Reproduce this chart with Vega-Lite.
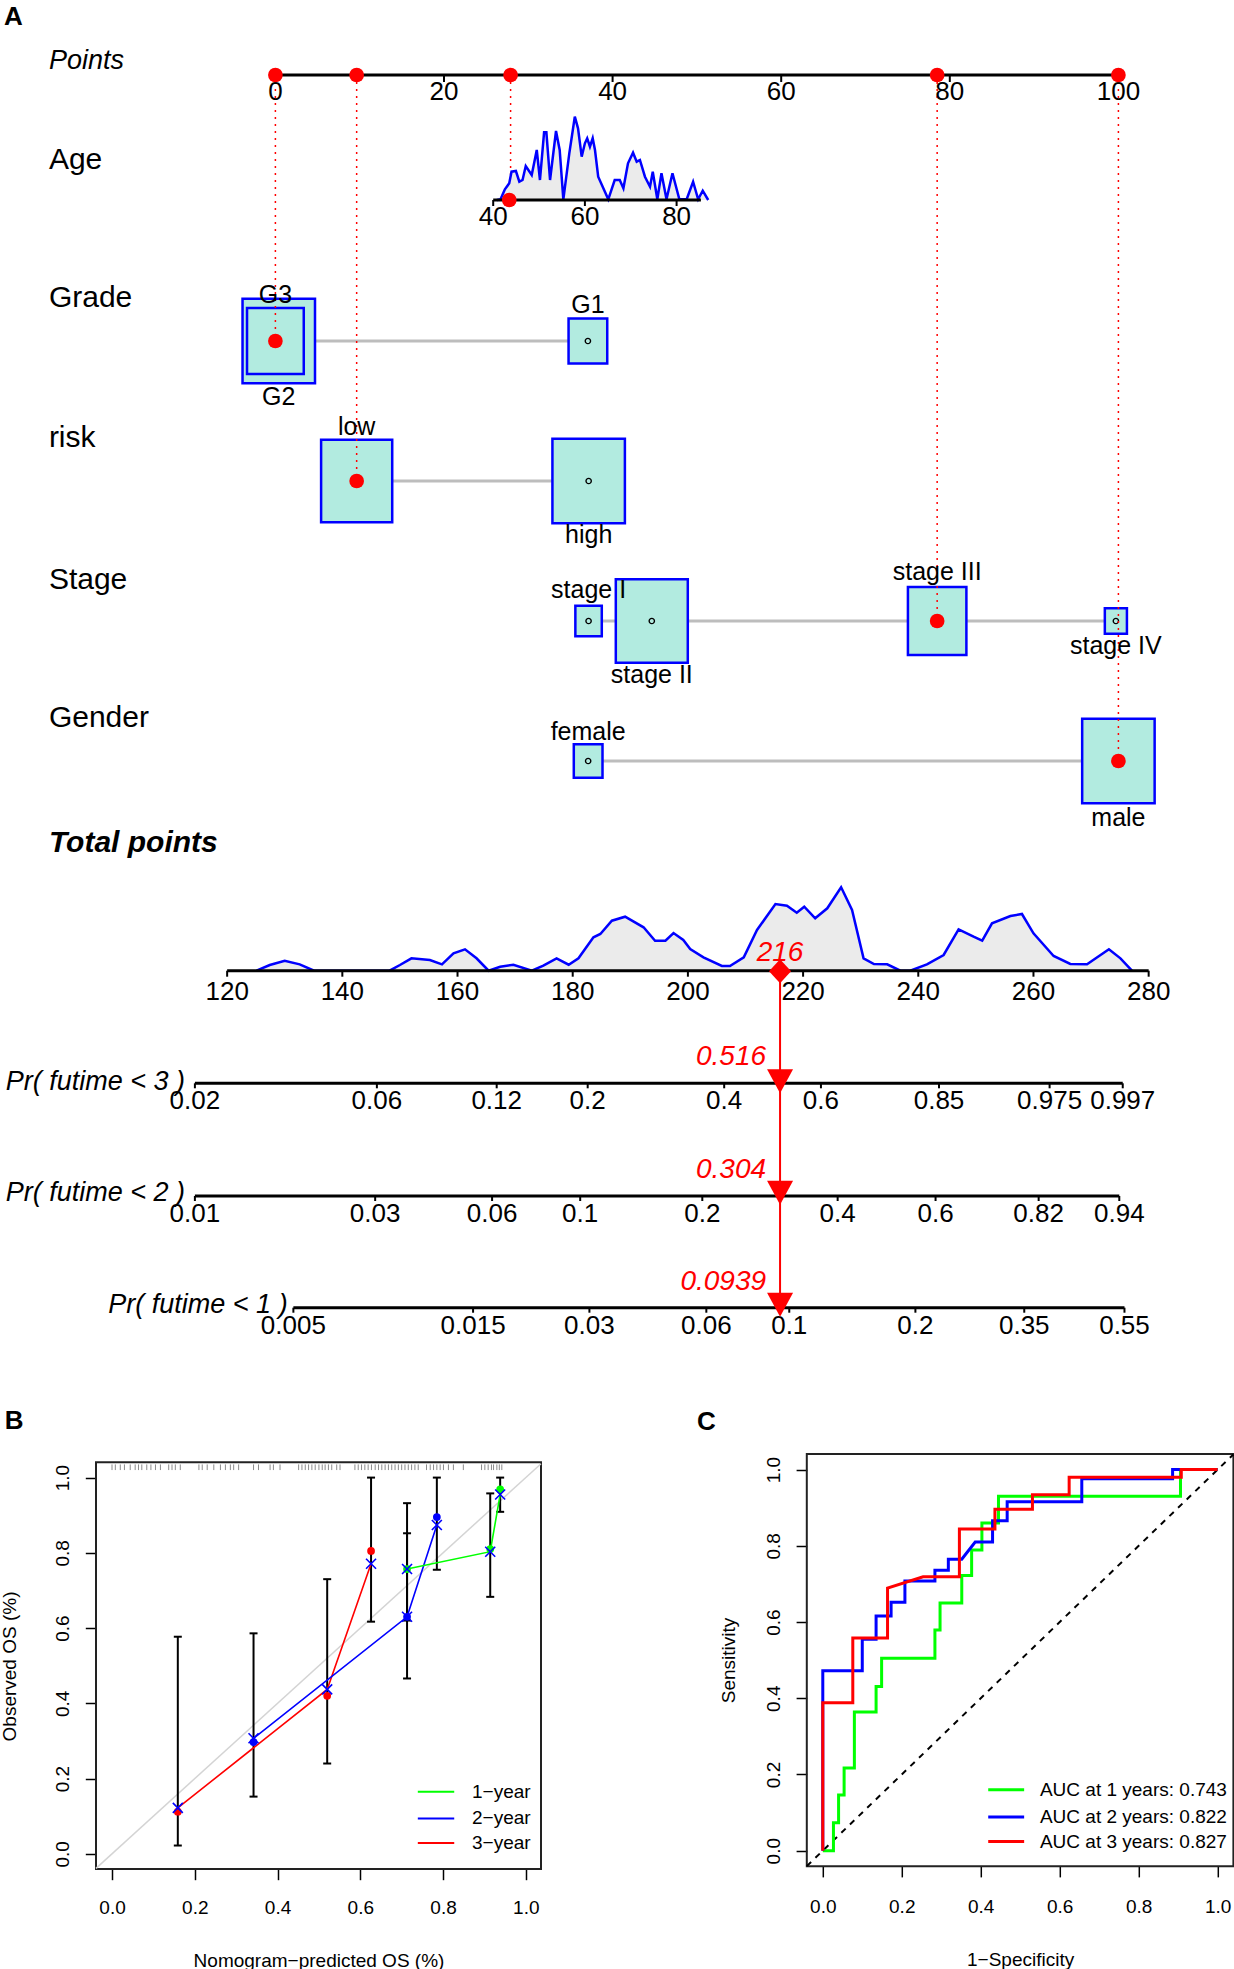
{
"$schema": "https://vega.github.io/schema/vega-lite/v6.json",
"padding": 0,
"spacing": 0,
"config": {"view": {"stroke": null}, "font": "Liberation Sans"},
"datasets": {
 "connectors": [{"x":0,"x2":37.07,"y":3.41},{"x":9.64,"x2":37.16,"y":4.81},{"x":37.15,"x2":99.7,"y":6.21},{"x":37.1,"x2":100,"y":7.61}],
 "cats": [
  {"v":"Grade","t":"G2","x":0.4,"y":3.41,"rel":1.0,"ly":3.967,"sel":false},
  {"v":"Grade","t":"G3","x":0,"y":3.41,"rel":0.613,"ly":2.95,"sel":true},
  {"v":"Grade","t":"G1","x":37.07,"y":3.41,"rel":0.285,"ly":3.05,"sel":false},
  {"v":"risk","t":"low","x":9.64,"y":4.81,"rel":0.963,"ly":4.267,"sel":true},
  {"v":"risk","t":"high","x":37.16,"y":4.81,"rel":1.0,"ly":5.35,"sel":false},
  {"v":"Stage","t":"stage I","x":37.15,"y":6.21,"rel":0.133,"ly":5.9,"sel":false},
  {"v":"Stage","t":"stage II","x":44.65,"y":6.21,"rel":0.987,"ly":6.75,"sel":false},
  {"v":"Stage","t":"stage III","x":78.5,"y":6.21,"rel":0.651,"ly":5.717,"sel":true},
  {"v":"Stage","t":"stage IV","x":99.7,"y":6.21,"rel":0.093,"ly":6.46,"sel":false},
  {"v":"Gender","t":"female","x":37.1,"y":7.61,"rel":0.157,"ly":7.317,"sel":false},
  {"v":"Gender","t":"male","x":100,"y":7.61,"rel":1.0,"ly":8.183,"sel":true}
 ],
 "dotted": [{"x":0,"y":0.75,"y2":3.41},{"x":9.64,"y":0.75,"y2":4.81},{"x":27.9,"y":0.75,"y2":2.0},{"x":78.5,"y":0.75,"y2":6.21},{"x":100,"y":0.75,"y2":7.61}],
 "ptsLine": [{"x":0,"x2":100,"y":0.75}],
 "ptsTicks": [{"x":0,"y":0.75,"t":"0"},{"x":20,"y":0.75,"t":"20"},{"x":40,"y":0.75,"t":"40"},{"x":60,"y":0.75,"t":"60"},{"x":80,"y":0.75,"t":"80"},{"x":100,"y":0.75,"t":"100"}],
 "redPts": [{"x":0,"y":0.75},{"x":9.64,"y":0.75},{"x":27.9,"y":0.75},{"x":78.5,"y":0.75},{"x":100,"y":0.75},{"x":0,"y":3.41},{"x":9.64,"y":4.81},{"x":78.5,"y":6.21},{"x":100,"y":7.61}],
 "rowLab": [{"x":-26.87,"y":1.6,"t":"Age"},{"x":-26.87,"y":2.983,"t":"Grade"},{"x":-26.87,"y":4.38,"t":"risk"},{"x":-26.87,"y":5.8,"t":"Stage"},{"x":-26.87,"y":7.183,"t":"Gender"}],
 "ptsLab": [{"x":-26.87,"y":0.61,"t":"Points"}],
 "totLab": [{"x":-26.87,"y":8.43,"t":"Total points"}],
 "panelLab": [{"x":-32.2,"y":0.165,"t":"A"},{"x":-32.1,"y":14.21,"t":"B"},{"x":50.0,"y":14.22,"t":"C"}],
 "ageDens": [{"x":40.8,"y":2.0},{"x":41.6,"y":1.993},{"x":42.55,"y":1.893},{"x":43.5,"y":1.833},{"x":44.0,"y":1.717},{"x":44.95,"y":1.71},{"x":45.7,"y":1.817},{"x":46.4,"y":1.8},{"x":47.1,"y":1.66},{"x":48.4,"y":1.75},{"x":49.5,"y":1.5},{"x":50.2,"y":1.8},{"x":51.1,"y":1.323},{"x":51.6,"y":1.323},{"x":52.4,"y":1.8},{"x":53.7,"y":1.31},{"x":54.5,"y":1.5},{"x":55.3,"y":1.993},{"x":56.6,"y":1.533},{"x":57.8,"y":1.167},{"x":58.5,"y":1.283},{"x":59.3,"y":1.567},{"x":60.0,"y":1.433},{"x":60.5,"y":1.383},{"x":61.1,"y":1.467},{"x":61.7,"y":1.383},{"x":62.2,"y":1.5},{"x":62.9,"y":1.767},{"x":65.1,"y":1.993},{"x":66.5,"y":1.8},{"x":67.6,"y":1.8},{"x":68.4,"y":1.883},{"x":69.4,"y":1.633},{"x":70.5,"y":1.527},{"x":71.3,"y":1.617},{"x":72.0,"y":1.6},{"x":73.1,"y":1.767},{"x":74.2,"y":1.867},{"x":74.8,"y":1.717},{"x":75.8,"y":1.993},{"x":76.7,"y":1.733},{"x":77.8,"y":1.993},{"x":79.1,"y":1.733},{"x":80.6,"y":1.993},{"x":82.2,"y":1.993},{"x":83.6,"y":1.817},{"x":84.7,"y":1.993},{"x":85.7,"y":1.907},{"x":86.9,"y":2.0}],
 "ageLine": [{"x":40,"x2":85.3,"y":2.0}],
 "ageTicks": [{"x":40,"y":2.0,"t":"40"},{"x":60,"y":2.0,"t":"60"},{"x":80,"y":2.0,"t":"80"}],
 "ageDot": [{"x":43.5,"y":2.0}],
 "tpDens": [{"x":125.1,"y":9.707},{"x":127.4,"y":9.65},{"x":130,"y":9.607},{"x":132.6,"y":9.644},{"x":135.1,"y":9.707},{"x":148.2,"y":9.707},{"x":150,"y":9.65},{"x":152,"y":9.583},{"x":155.2,"y":9.6},{"x":157.3,"y":9.644},{"x":159.3,"y":9.533},{"x":161.3,"y":9.493},{"x":163.3,"y":9.583},{"x":165.4,"y":9.707},{"x":167.4,"y":9.667},{"x":169.7,"y":9.647},{"x":172.9,"y":9.707},{"x":174.9,"y":9.657},{"x":177.2,"y":9.583},{"x":179.3,"y":9.647},{"x":181,"y":9.583},{"x":183.6,"y":9.373},{"x":184.8,"y":9.34},{"x":186.8,"y":9.207},{"x":189.1,"y":9.167},{"x":192.3,"y":9.273},{"x":194.3,"y":9.407},{"x":196.1,"y":9.407},{"x":197.5,"y":9.33},{"x":199.2,"y":9.4},{"x":200.4,"y":9.49},{"x":202.7,"y":9.573},{"x":205.9,"y":9.66},{"x":207.3,"y":9.66},{"x":209.7,"y":9.573},{"x":212,"y":9.3},{"x":215.2,"y":9.04},{"x":217.2,"y":9.057},{"x":218.9,"y":9.127},{"x":220.2,"y":9.067},{"x":222.1,"y":9.183},{"x":224.2,"y":9.083},{"x":226.6,"y":8.873},{"x":228.5,"y":9.1},{"x":230.5,"y":9.583},{"x":232.3,"y":9.64},{"x":234.6,"y":9.643},{"x":236.9,"y":9.707},{"x":238.6,"y":9.707},{"x":241.5,"y":9.643},{"x":244.4,"y":9.55},{"x":247,"y":9.293},{"x":249.6,"y":9.367},{"x":251.1,"y":9.407},{"x":252.8,"y":9.233},{"x":256,"y":9.16},{"x":258,"y":9.14},{"x":260,"y":9.333},{"x":263.5,"y":9.56},{"x":266.4,"y":9.64},{"x":269.3,"y":9.643},{"x":273.1,"y":9.493},{"x":275.1,"y":9.583},{"x":277.1,"y":9.707}],
 "tpLines": [{"x":120,"x2":280,"y":9.707},{"x":114.4,"x2":275.5,"y":10.833},{"x":114.4,"x2":274.9,"y":11.96},{"x":131.5,"x2":275.8,"y":13.077}],
 "tpTicks": [{"x":120,"y":9.707,"t":"120"},{"x":140,"y":9.707,"t":"140"},{"x":160,"y":9.707,"t":"160"},{"x":180,"y":9.707,"t":"180"},{"x":200,"y":9.707,"t":"200"},{"x":220,"y":9.707,"t":"220"},{"x":240,"y":9.707,"t":"240"},{"x":260,"y":9.707,"t":"260"},{"x":280,"y":9.707,"t":"280"}],
 "prTicks": [
  {"x":114.4,"y":10.833,"t":"0.02"},{"x":146,"y":10.833,"t":"0.06"},{"x":166.8,"y":10.833,"t":"0.12"},{"x":182.6,"y":10.833,"t":"0.2"},{"x":206.3,"y":10.833,"t":"0.4"},{"x":223.1,"y":10.833,"t":"0.6"},{"x":243.6,"y":10.833,"t":"0.85"},{"x":262.8,"y":10.833,"t":"0.975"},{"x":275.5,"y":10.833,"t":"0.997"},
  {"x":114.4,"y":11.96,"t":"0.01"},{"x":145.7,"y":11.96,"t":"0.03"},{"x":166,"y":11.96,"t":"0.06"},{"x":181.3,"y":11.96,"t":"0.1"},{"x":202.5,"y":11.96,"t":"0.2"},{"x":226,"y":11.96,"t":"0.4"},{"x":243,"y":11.96,"t":"0.6"},{"x":260.9,"y":11.96,"t":"0.82"},{"x":274.9,"y":11.96,"t":"0.94"},
  {"x":131.5,"y":13.077,"t":"0.005"},{"x":162.7,"y":13.077,"t":"0.015"},{"x":182.9,"y":13.077,"t":"0.03"},{"x":203.2,"y":13.077,"t":"0.06"},{"x":217.6,"y":13.077,"t":"0.1"},{"x":239.5,"y":13.077,"t":"0.2"},{"x":258.4,"y":13.077,"t":"0.35"},{"x":275.8,"y":13.077,"t":"0.55"}
 ],
 "redLine": [{"x":216,"y":9.713,"y2":13.047}],
 "diamond": [{"x":216,"y":9.713}],
 "tri": [{"x":216,"y":10.813},{"x":216,"y":11.928},{"x":216,"y":13.047}],
 "totVal": [{"x":216,"y":9.533,"t":"216"}],
 "prVal": [{"x":216,"y":10.567,"t":"0.516"},{"x":216,"y":11.7,"t":"0.304"},{"x":216,"y":12.817,"t":"0.0939"}],
 "prLab": [{"x":112.7,"y":10.817,"t":"Pr( futime < 3 )"},{"x":112.7,"y":11.933,"t":"Pr( futime < 2 )"},{"x":130.5,"y":13.05,"t":"Pr( futime < 1 )"}],
 "cal": [
  {"yr":"3−year","x":0.159,"obs":0.112,"bc":0.122,"lo":0.022,"hi":0.577},
  {"yr":"2−year","x":0.342,"obs":0.297,"bc":0.307,"lo":0.152,"hi":0.586},
  {"yr":"3−year","x":0.52,"obs":0.42,"bc":0.437,"lo":0.24,"hi":0.73},
  {"yr":"3−year","x":0.626,"obs":0.805,"bc":0.771,"lo":0.617,"hi":1.0},
  {"yr":"2−year","x":0.713,"obs":0.63,"bc":0.63,"lo":0.466,"hi":0.932},
  {"yr":"1−year","x":0.713,"obs":0.757,"bc":0.757,"lo":0.62,"hi":0.852},
  {"yr":"2−year","x":0.785,"obs":0.895,"bc":0.874,"lo":0.755,"hi":1.0},
  {"yr":"1−year","x":0.914,"obs":0.81,"bc":0.803,"lo":0.683,"hi":0.958},
  {"yr":"1−year","x":0.938,"obs":0.969,"bc":0.955,"lo":0.909,"hi":1.0}
 ],
 "legB": [{"yr":"1−year","ly":0.165},{"yr":"2−year","ly":0.094},{"yr":"3−year","ly":0.029}],
 "legC": [{"yr":"AUC at 1 years: 0.743","ly":0.16},{"yr":"AUC at 2 years: 0.822","ly":0.0887},{"yr":"AUC at 3 years: 0.827","ly":0.0239}],
 "rug": [{"x":0.0},{"x":0.008},{"x":0.02},{"x":0.03},{"x":0.044},{"x":0.056},{"x":0.064},{"x":0.072},{"x":0.084},{"x":0.094},{"x":0.105},{"x":0.117},{"x":0.137},{"x":0.145},{"x":0.153},{"x":0.165},{"x":0.21},{"x":0.218},{"x":0.23},{"x":0.246},{"x":0.262},{"x":0.274},{"x":0.286},{"x":0.294},{"x":0.306},{"x":0.342},{"x":0.354},{"x":0.382},{"x":0.39},{"x":0.406},{"x":0.451},{"x":0.459},{"x":0.467},{"x":0.475},{"x":0.483},{"x":0.491},{"x":0.5},{"x":0.508},{"x":0.515},{"x":0.523},{"x":0.531},{"x":0.543},{"x":0.551},{"x":0.587},{"x":0.595},{"x":0.603},{"x":0.611},{"x":0.619},{"x":0.627},{"x":0.636},{"x":0.644},{"x":0.652},{"x":0.66},{"x":0.668},{"x":0.676},{"x":0.684},{"x":0.692},{"x":0.7},{"x":0.708},{"x":0.716},{"x":0.724},{"x":0.732},{"x":0.74},{"x":0.76},{"x":0.769},{"x":0.777},{"x":0.785},{"x":0.793},{"x":0.801},{"x":0.813},{"x":0.825},{"x":0.849},{"x":0.893},{"x":0.901},{"x":0.909},{"x":0.917},{"x":0.922},{"x":0.93},{"x":0.936},{"x":0.942}],
 "roc": [
  {"yr":"AUC at 1 years: 0.743","i":0,"x":0,"y":0},{"yr":"AUC at 1 years: 0.743","i":1,"x":0.027,"y":0},{"yr":"AUC at 1 years: 0.743","i":2,"x":0.027,"y":0.073},{"yr":"AUC at 1 years: 0.743","i":3,"x":0.04,"y":0.073},{"yr":"AUC at 1 years: 0.743","i":4,"x":0.04,"y":0.146},{"yr":"AUC at 1 years: 0.743","i":5,"x":0.054,"y":0.146},{"yr":"AUC at 1 years: 0.743","i":6,"x":0.054,"y":0.217},{"yr":"AUC at 1 years: 0.743","i":7,"x":0.08,"y":0.217},{"yr":"AUC at 1 years: 0.743","i":8,"x":0.08,"y":0.364},{"yr":"AUC at 1 years: 0.743","i":9,"x":0.135,"y":0.364},{"yr":"AUC at 1 years: 0.743","i":10,"x":0.135,"y":0.431},{"yr":"AUC at 1 years: 0.743","i":11,"x":0.149,"y":0.431},{"yr":"AUC at 1 years: 0.743","i":12,"x":0.149,"y":0.505},{"yr":"AUC at 1 years: 0.743","i":13,"x":0.284,"y":0.505},{"yr":"AUC at 1 years: 0.743","i":14,"x":0.284,"y":0.579},{"yr":"AUC at 1 years: 0.743","i":15,"x":0.297,"y":0.579},{"yr":"AUC at 1 years: 0.743","i":16,"x":0.297,"y":0.65},{"yr":"AUC at 1 years: 0.743","i":17,"x":0.352,"y":0.65},{"yr":"AUC at 1 years: 0.743","i":18,"x":0.352,"y":0.722},{"yr":"AUC at 1 years: 0.743","i":19,"x":0.377,"y":0.722},{"yr":"AUC at 1 years: 0.743","i":20,"x":0.377,"y":0.789},{"yr":"AUC at 1 years: 0.743","i":21,"x":0.403,"y":0.789},{"yr":"AUC at 1 years: 0.743","i":22,"x":0.403,"y":0.86},{"yr":"AUC at 1 years: 0.743","i":23,"x":0.445,"y":0.86},{"yr":"AUC at 1 years: 0.743","i":24,"x":0.445,"y":0.93},{"yr":"AUC at 1 years: 0.743","i":25,"x":0.906,"y":0.93},{"yr":"AUC at 1 years: 0.743","i":26,"x":0.906,"y":1},{"yr":"AUC at 1 years: 0.743","i":27,"x":1,"y":1},
  {"yr":"AUC at 2 years: 0.822","i":0,"x":0,"y":0},{"yr":"AUC at 2 years: 0.822","i":1,"x":0,"y":0.472},{"yr":"AUC at 2 years: 0.822","i":2,"x":0.1,"y":0.472},{"yr":"AUC at 2 years: 0.822","i":3,"x":0.1,"y":0.555},{"yr":"AUC at 2 years: 0.822","i":4,"x":0.135,"y":0.555},{"yr":"AUC at 2 years: 0.822","i":5,"x":0.135,"y":0.616},{"yr":"AUC at 2 years: 0.822","i":6,"x":0.173,"y":0.616},{"yr":"AUC at 2 years: 0.822","i":7,"x":0.173,"y":0.652},{"yr":"AUC at 2 years: 0.822","i":8,"x":0.208,"y":0.652},{"yr":"AUC at 2 years: 0.822","i":9,"x":0.208,"y":0.708},{"yr":"AUC at 2 years: 0.822","i":10,"x":0.284,"y":0.708},{"yr":"AUC at 2 years: 0.822","i":11,"x":0.284,"y":0.736},{"yr":"AUC at 2 years: 0.822","i":12,"x":0.318,"y":0.736},{"yr":"AUC at 2 years: 0.822","i":13,"x":0.318,"y":0.765},{"yr":"AUC at 2 years: 0.822","i":14,"x":0.352,"y":0.765},{"yr":"AUC at 2 years: 0.822","i":15,"x":0.386,"y":0.81},{"yr":"AUC at 2 years: 0.822","i":16,"x":0.43,"y":0.81},{"yr":"AUC at 2 years: 0.822","i":17,"x":0.43,"y":0.866},{"yr":"AUC at 2 years: 0.822","i":18,"x":0.467,"y":0.866},{"yr":"AUC at 2 years: 0.822","i":19,"x":0.467,"y":0.916},{"yr":"AUC at 2 years: 0.822","i":20,"x":0.656,"y":0.916},{"yr":"AUC at 2 years: 0.822","i":21,"x":0.656,"y":0.976},{"yr":"AUC at 2 years: 0.822","i":22,"x":0.886,"y":0.976},{"yr":"AUC at 2 years: 0.822","i":23,"x":0.886,"y":1},{"yr":"AUC at 2 years: 0.822","i":24,"x":1,"y":1},
  {"yr":"AUC at 3 years: 0.827","i":0,"x":0,"y":0},{"yr":"AUC at 3 years: 0.827","i":1,"x":0,"y":0.388},{"yr":"AUC at 3 years: 0.827","i":2,"x":0.076,"y":0.388},{"yr":"AUC at 3 years: 0.827","i":3,"x":0.076,"y":0.558},{"yr":"AUC at 3 years: 0.827","i":4,"x":0.164,"y":0.558},{"yr":"AUC at 3 years: 0.827","i":5,"x":0.164,"y":0.689},{"yr":"AUC at 3 years: 0.827","i":6,"x":0.254,"y":0.719},{"yr":"AUC at 3 years: 0.827","i":7,"x":0.346,"y":0.719},{"yr":"AUC at 3 years: 0.827","i":8,"x":0.346,"y":0.844},{"yr":"AUC at 3 years: 0.827","i":9,"x":0.436,"y":0.844},{"yr":"AUC at 3 years: 0.827","i":10,"x":0.436,"y":0.896},{"yr":"AUC at 3 years: 0.827","i":11,"x":0.531,"y":0.896},{"yr":"AUC at 3 years: 0.827","i":12,"x":0.531,"y":0.934},{"yr":"AUC at 3 years: 0.827","i":13,"x":0.624,"y":0.934},{"yr":"AUC at 3 years: 0.827","i":14,"x":0.624,"y":0.98},{"yr":"AUC at 3 years: 0.827","i":15,"x":0.908,"y":0.98},{"yr":"AUC at 3 years: 0.827","i":16,"x":0.908,"y":1},{"yr":"AUC at 3 years: 0.827","i":17,"x":1,"y":1}
 ]
},
"vconcat": [
 {
  "width": 1137.9, "height": 1453,
  "resolve": {"scale": {"x": "independent"}},
  "layer": [
   {
    "encoding": {
     "x": {"field": "x", "type": "quantitative", "scale": {"domain": [-21.28, 113.7], "nice": false, "zero": false}, "axis": null},
     "y": {"field": "y", "type": "quantitative", "scale": {"domain": [0, 14.53], "nice": false, "zero": false, "reverse": true}, "axis": null}
    },
    "layer": [
     {"data": {"name": "connectors"}, "mark": {"type": "rule", "color": "#bdbdbd", "strokeWidth": 3}, "encoding": {"x2": {"field": "x2"}}},
     {"data": {"name": "cats"}, "mark": {"type": "point", "shape": "M-0.86,-1H0.86V1H-0.86Z", "filled": true, "fill": "#b2ebe0", "stroke": "#0000ff", "strokeWidth": 2.5, "opacity": 1},
      "encoding": {"size": {"field": "rel", "type": "quantitative", "scale": {"domain": [0, 1], "range": [0, 7100], "zero": true}, "legend": null}}},
     {"data": {"name": "cats"}, "transform": [{"filter": "!datum.sel"}], "mark": {"type": "point", "filled": false, "stroke": "#000", "strokeWidth": 1.4, "size": 28, "opacity": 1}},
     {"data": {"name": "dotted"}, "mark": {"type": "rule", "color": "#ff0000", "strokeWidth": 1.5, "strokeDash": [2, 5]}, "encoding": {"y2": {"field": "y2"}}},
     {"data": {"name": "ptsLine"}, "mark": {"type": "rule", "color": "#000", "strokeWidth": 3}, "encoding": {"x2": {"field": "x2"}}},
     {"data": {"name": "ptsTicks"}, "mark": {"type": "point", "shape": "M0,0V1", "filled": false, "stroke": "#000", "strokeWidth": 2, "size": 196, "opacity": 1}},
     {"data": {"name": "ptsTicks"}, "mark": {"type": "text", "fontSize": 26, "dy": 17, "baseline": "middle", "align": "center", "color": "#000"}, "encoding": {"text": {"field": "t"}}},
     {"data": {"name": "redPts"}, "mark": {"type": "point", "shape": "circle", "filled": true, "color": "#ff0000", "size": 215, "opacity": 1}},
     {"data": {"name": "cats"}, "mark": {"type": "text", "fontSize": 25, "baseline": "middle", "align": "center", "color": "#000"},
      "encoding": {"y": {"field": "ly", "type": "quantitative", "scale": {"domain": [0, 14.53], "nice": false, "zero": false, "reverse": true}, "axis": null}, "text": {"field": "t"}}},
     {"data": {"name": "rowLab"}, "mark": {"type": "text", "fontSize": 30, "baseline": "middle", "align": "left", "color": "#000"}, "encoding": {"text": {"field": "t"}}},
     {"data": {"name": "ptsLab"}, "mark": {"type": "text", "fontSize": 27, "fontStyle": "italic", "baseline": "middle", "align": "left", "color": "#000"}, "encoding": {"text": {"field": "t"}}},
     {"data": {"name": "totLab"}, "mark": {"type": "text", "fontSize": 30, "fontStyle": "italic", "fontWeight": "bold", "baseline": "middle", "align": "left", "color": "#000"}, "encoding": {"text": {"field": "t"}}},
     {"data": {"name": "panelLab"}, "mark": {"type": "text", "fontSize": 26, "fontWeight": "bold", "baseline": "middle", "align": "left", "color": "#000"}, "encoding": {"text": {"field": "t"}}}
    ]
   },
   {
    "encoding": {
     "x": {"field": "x", "type": "quantitative", "scale": {"domain": [97.23, 294.8], "nice": false, "zero": false}, "axis": null},
     "y": {"field": "y", "type": "quantitative", "scale": {"domain": [0, 14.53], "nice": false, "zero": false, "reverse": true}, "axis": null}
    },
    "layer": [
     {"data": {"name": "tpDens"}, "mark": {"type": "area", "color": "#ebebeb", "opacity": 1}, "encoding": {"y2": {"datum": 9.707}}},
     {"data": {"name": "tpDens"}, "mark": {"type": "line", "color": "#0000ff", "strokeWidth": 2.5}},
     {"data": {"name": "tpLines"}, "mark": {"type": "rule", "color": "#000", "strokeWidth": 3}, "encoding": {"x2": {"field": "x2"}}},
     {"data": {"name": "tpTicks"}, "mark": {"type": "point", "shape": "M0,0V1", "filled": false, "stroke": "#000", "strokeWidth": 2, "size": 144, "opacity": 1}},
     {"data": {"name": "prTicks"}, "mark": {"type": "point", "shape": "M0,0V1", "filled": false, "stroke": "#000", "strokeWidth": 2, "size": 100, "opacity": 1}},
     {"data": {"name": "tpTicks"}, "mark": {"type": "text", "fontSize": 26, "dy": 21, "baseline": "middle", "align": "center", "color": "#000"}, "encoding": {"text": {"field": "t"}}},
     {"data": {"name": "prTicks"}, "mark": {"type": "text", "fontSize": 26, "dy": 18, "baseline": "middle", "align": "center", "color": "#000"}, "encoding": {"text": {"field": "t"}}},
     {"data": {"name": "redLine"}, "mark": {"type": "rule", "color": "#ff0000", "strokeWidth": 2}, "encoding": {"y2": {"field": "y2"}}},
     {"data": {"name": "diamond"}, "mark": {"type": "point", "shape": "M0,-1L0.92,0L0,1L-0.92,0Z", "filled": true, "color": "#ff0000", "size": 576, "opacity": 1}},
     {"data": {"name": "tri"}, "mark": {"type": "point", "shape": "M-1,-0.92H1L0,0.92Z", "filled": true, "color": "#ff0000", "size": 676, "opacity": 1}},
     {"data": {"name": "totVal"}, "mark": {"type": "text", "fontSize": 28, "fontStyle": "italic", "baseline": "middle", "align": "center", "color": "#ff0000"}, "encoding": {"text": {"field": "t"}}},
     {"data": {"name": "prVal"}, "mark": {"type": "text", "fontSize": 28, "fontStyle": "italic", "baseline": "middle", "align": "right", "dx": -14, "color": "#ff0000"}, "encoding": {"text": {"field": "t"}}},
     {"data": {"name": "prLab"}, "mark": {"type": "text", "fontSize": 27, "fontStyle": "italic", "baseline": "middle", "align": "right", "color": "#000"}, "encoding": {"text": {"field": "t"}}}
    ]
   },
   {
    "encoding": {
     "x": {"field": "x", "type": "quantitative", "scale": {"domain": [-46.63, 201.55], "nice": false, "zero": false}, "axis": null},
     "y": {"field": "y", "type": "quantitative", "scale": {"domain": [0, 14.53], "nice": false, "zero": false, "reverse": true}, "axis": null}
    },
    "layer": [
     {"data": {"name": "ageDens"}, "mark": {"type": "area", "color": "#ebebeb", "opacity": 1}, "encoding": {"y2": {"datum": 2.0}}},
     {"data": {"name": "ageDens"}, "mark": {"type": "line", "color": "#0000ff", "strokeWidth": 2.5}},
     {"data": {"name": "ageLine"}, "mark": {"type": "rule", "color": "#000", "strokeWidth": 3}, "encoding": {"x2": {"field": "x2"}}},
     {"data": {"name": "ageTicks"}, "mark": {"type": "point", "shape": "M0,0V1", "filled": false, "stroke": "#000", "strokeWidth": 2, "size": 144, "opacity": 1}},
     {"data": {"name": "ageTicks"}, "mark": {"type": "text", "fontSize": 26, "dy": 17, "baseline": "middle", "align": "center", "color": "#000"}, "encoding": {"text": {"field": "t"}}},
     {"data": {"name": "ageDot"}, "mark": {"type": "point", "shape": "circle", "filled": true, "color": "#ff0000", "size": 215, "opacity": 1}}
    ]
   }
  ]
 },
 {
  "spacing": 176.8,
  "hconcat": [
   {
    "width": 445, "height": 415,
    "layer": [
     {
      "layer": [
       {"data": {"values": [{}]}, "mark": {"type": "rect", "fillOpacity": 0, "stroke": "#222", "strokeWidth": 2},
        "encoding": {"x": {"datum": -0.0387, "type": "quantitative", "scale": {"domain": [-0.0387, 1.0367], "nice": false, "zero": false}}, "x2": {"datum": 1.0367},
         "y": {"datum": -0.0404, "type": "quantitative", "scale": {"domain": [-0.0404, 1.0627], "nice": false, "zero": false}}, "y2": {"datum": 1.041}}},
       {"data": {"values": [{}]}, "mark": {"type": "rule", "color": "#d4d4d4", "strokeWidth": 1.5},
        "encoding": {"x": {"datum": -0.0387, "type": "quantitative"}, "x2": {"datum": 1.0367}, "y": {"datum": -0.0387, "type": "quantitative"}, "y2": {"datum": 1.0367}}},
       {"data": {"name": "rug"}, "mark": {"type": "rule", "color": "#8c8c8c", "strokeWidth": 1},
        "encoding": {"x": {"field": "x", "type": "quantitative"}, "y": {"datum": 1.035, "type": "quantitative"}, "y2": {"datum": 1.02}}},
       {"data": {"name": "legB"}, "mark": {"type": "rule", "strokeWidth": 2},
        "encoding": {"x": {"datum": 0.739, "type": "quantitative"}, "x2": {"datum": 0.827}, "y": {"field": "ly", "type": "quantitative"},
         "color": {"field": "yr", "type": "nominal", "scale": {"domain": ["1−year", "2−year", "3−year"], "range": ["#00ff00", "#0000ff", "#ff0000"]}, "legend": null}}},
       {"data": {"name": "legB"}, "mark": {"type": "text", "fontSize": 19, "align": "left", "baseline": "middle", "color": "#000"},
        "encoding": {"x": {"datum": 0.87, "type": "quantitative"}, "y": {"field": "ly", "type": "quantitative"}, "text": {"field": "yr"}}}
      ]
     },
     {
      "encoding": {
       "x": {"field": "x", "type": "quantitative", "scale": {"domain": [-0.0387, 1.0367], "nice": false, "zero": false},
        "axis": {"values": [0, 0.2, 0.4, 0.6, 0.8, 1], "format": ".1f", "labelFontSize": 19, "labelFont": "Liberation Sans", "labelColor": "#000", "labelPadding": 27.3, "labelBaseline": "middle", "tickSize": 10.7, "tickWidth": 1.5, "tickColor": "#000", "domain": false, "grid": false, "title": "Nomogram−predicted OS (%)", "titleFont": "Liberation Sans", "titleFontSize": 19, "titleFontWeight": "normal", "titleColor": "#000", "titleY": 91, "titleBaseline": "middle"}},
       "y": {"field": "bc", "type": "quantitative", "scale": {"domain": [-0.0404, 1.0627], "nice": false, "zero": false},
        "axis": {"values": [0, 0.2, 0.4, 0.6, 0.8, 1], "format": ".1f", "labelAngle": -90, "labelAlign": "center", "labelBaseline": "middle", "labelPadding": 23.3, "labelFontSize": 19, "labelFont": "Liberation Sans", "labelColor": "#000", "tickSize": 10.7, "tickWidth": 1.5, "tickColor": "#000", "domain": false, "grid": false, "title": "Observed OS (%)", "titleFont": "Liberation Sans", "titleFontSize": 19, "titleFontWeight": "normal", "titleColor": "#000", "titleAngle": -90, "titleX": -86.2, "titleY": 212, "titleBaseline": "middle", "titleAlign": "center"}}
      },
      "layer": [
       {"data": {"name": "cal"}, "mark": {"type": "rule", "color": "#000", "strokeWidth": 2}, "encoding": {"y": {"field": "lo"}, "y2": {"field": "hi"}}},
       {"data": {"name": "cal"}, "mark": {"type": "tick", "orient": "horizontal", "size": 8, "thickness": 2, "color": "#000", "opacity": 1}, "encoding": {"y": {"field": "lo"}}},
       {"data": {"name": "cal"}, "mark": {"type": "tick", "orient": "horizontal", "size": 8, "thickness": 2, "color": "#000", "opacity": 1}, "encoding": {"y": {"field": "hi"}}},
       {"data": {"name": "cal"}, "mark": {"type": "line", "strokeWidth": 1.6},
        "encoding": {"color": {"field": "yr", "type": "nominal", "scale": {"domain": ["1−year", "2−year", "3−year"], "range": ["#00ff00", "#0000ff", "#ff0000"]}, "legend": null}}},
       {"data": {"name": "cal"}, "mark": {"type": "point", "shape": "circle", "filled": true, "size": 60, "opacity": 1},
        "encoding": {"y": {"field": "obs"}, "color": {"field": "yr", "type": "nominal", "scale": {"domain": ["1−year", "2−year", "3−year"], "range": ["#00ff00", "#0000ff", "#ff0000"]}, "legend": null}}},
       {"data": {"name": "cal"}, "mark": {"type": "point", "shape": "M-1,-1L1,1M-1,1L1,-1", "filled": false, "stroke": "#0000ff", "strokeWidth": 1.6, "size": 100, "opacity": 1}}
      ]
     }
    ]
   },
   {
    "width": 426.6, "height": 412.2,
    "layer": [
     {"data": {"values": [{}]}, "mark": {"type": "rect", "fillOpacity": 0, "stroke": "#222", "strokeWidth": 2},
      "encoding": {"x": {"datum": -0.0405, "type": "quantitative", "scale": {"domain": [-0.0405, 1.04], "nice": false, "zero": false}}, "x2": {"datum": 1.04},
       "y": {"datum": -0.0407, "type": "quantitative", "scale": {"domain": [-0.0407, 1.041], "nice": false, "zero": false}}, "y2": {"datum": 1.041}}},
     {"data": {"values": [{}]}, "mark": {"type": "rule", "color": "#000", "strokeWidth": 2, "strokeDash": [6, 6]},
      "encoding": {"x": {"datum": -0.0405, "type": "quantitative"}, "x2": {"datum": 1.04}, "y": {"datum": -0.0405, "type": "quantitative"}, "y2": {"datum": 1.04}}},
     {"data": {"name": "roc"}, "mark": {"type": "line", "strokeWidth": 3},
      "encoding": {
       "x": {"field": "x", "type": "quantitative", "scale": {"domain": [-0.0405, 1.04], "nice": false, "zero": false},
        "axis": {"values": [0, 0.2, 0.4, 0.6, 0.8, 1], "format": ".1f", "labelFontSize": 19, "labelFont": "Liberation Sans", "labelColor": "#000", "labelPadding": 29.8, "labelBaseline": "middle", "tickSize": 10.7, "tickWidth": 1.5, "tickColor": "#000", "domain": false, "grid": false, "title": "1−Specificity", "titleFont": "Liberation Sans", "titleFontSize": 19, "titleFontWeight": "normal", "titleColor": "#000", "titleY": 93.5, "titleBaseline": "middle"}},
       "y": {"field": "y", "type": "quantitative", "scale": {"domain": [-0.0407, 1.041], "nice": false, "zero": false},
        "axis": {"values": [0, 0.2, 0.4, 0.6, 0.8, 1], "format": ".1f", "labelAngle": -90, "labelAlign": "center", "labelBaseline": "middle", "labelPadding": 23, "labelFontSize": 19, "labelFont": "Liberation Sans", "labelColor": "#000", "tickSize": 10.7, "tickWidth": 1.5, "tickColor": "#000", "domain": false, "grid": false, "title": "Sensitivity", "titleFont": "Liberation Sans", "titleFontSize": 19, "titleFontWeight": "normal", "titleColor": "#000", "titleAngle": -90, "titleX": -78.7, "titleY": 206, "titleBaseline": "middle", "titleAlign": "center"}},
       "order": {"field": "i", "type": "quantitative"},
       "color": {"field": "yr", "type": "nominal", "scale": {"domain": ["AUC at 1 years: 0.743", "AUC at 2 years: 0.822", "AUC at 3 years: 0.827"], "range": ["#00ff00", "#0000ff", "#ff0000"]}, "legend": null}
      }},
     {"data": {"name": "legC"}, "mark": {"type": "rule", "strokeWidth": 3},
      "encoding": {"x": {"datum": 0.419, "type": "quantitative"}, "x2": {"datum": 0.51}, "y": {"field": "ly", "type": "quantitative"},
       "color": {"field": "yr", "type": "nominal", "scale": {"domain": ["AUC at 1 years: 0.743", "AUC at 2 years: 0.822", "AUC at 3 years: 0.827"], "range": ["#00ff00", "#0000ff", "#ff0000"]}, "legend": null}}},
     {"data": {"name": "legC"}, "mark": {"type": "text", "fontSize": 19, "align": "left", "baseline": "middle", "color": "#000"},
      "encoding": {"x": {"datum": 0.55, "type": "quantitative"}, "y": {"field": "ly", "type": "quantitative"}, "text": {"field": "yr"}}}
    ]
   }
  ]
 }
]
}
